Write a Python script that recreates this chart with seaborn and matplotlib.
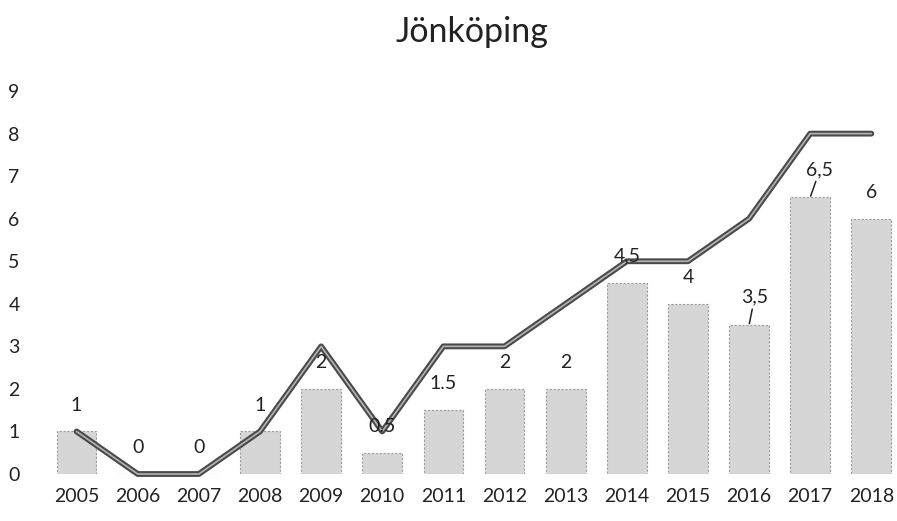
import numpy as np
import matplotlib.pyplot as plt
import seaborn as sns

# Data
years = ['2005', '2006', '2007', '2008', '2009', '2010', '2011',
         '2012', '2013', '2014', '2015', '2016', '2017', '2018']
bar_values = [1, 0, 0, 1, 2, 0.5, 1.5, 2, 2, 4.5, 4, 3.5, 6.5, 6]
bar_labels = ['1', '0', '0', '1', '2', '0.5', '1.5', '2', '2',
              '4,5', '4', '3,5', '6,5', '6']
line_values = [1, 0, 0, 1, 3, 1, 3, 3, 4, 5, 5, 6, 8, 8]

sns.set_theme(style='white')
plt.rcParams['font.family'] = ['Lato', 'DejaVu Sans']

fig = plt.figure(figsize=(8.97, 5.21), dpi=100)
ax = fig.add_axes([0.0513, 0.0902, 0.9487, 0.735])

sns.barplot(x=years, y=bar_values, color='#d6d6d6', width=0.65,
            edgecolor='#9c9c9c', linewidth=0.8, saturation=1, ax=ax)
for p in ax.patches:
    p.set_linestyle((0, (2, 1.5)))

xpos = np.arange(len(years))
sns.lineplot(x=xpos, y=line_values, color='#4a4a4a', linewidth=4.2,
             ax=ax, solid_capstyle='round', solid_joinstyle='round', clip_on=False)
sns.lineplot(x=xpos, y=line_values, color='#b4b4b4', linewidth=1.2,
             ax=ax, solid_capstyle='round', clip_on=False)

# data labels above bars (leader lines where label was moved)
shifted = {'3,5': 4, '6,5': 7}
for i, (v, lab) in enumerate(zip(bar_values, bar_labels)):
    if lab in shifted:
        ax.annotate(lab, xy=(i, v), xytext=(shifted[lab], 20), textcoords='offset points',
                    ha='center', va='center', fontsize=14, color='#222222',
                    arrowprops=dict(arrowstyle='-', color='#222222', lw=1.1,
                                    shrinkA=0, shrinkB=1))
    else:
        ax.annotate(lab, xy=(i, v), xytext=(0, 19), textcoords='offset points',
                    ha='center', va='center', fontsize=14, color='#222222')

ax.set_xlim(-0.5, 13.42)
ax.set_ylim(0, 9)
ax.set_yticks(range(0, 10))
ax.tick_params(axis='y', length=0, pad=19, labelsize=14, labelcolor='#222222')
ax.tick_params(axis='x', length=0, pad=10, labelsize=14, labelcolor='#222222')
for lbl in ax.get_yticklabels():
    lbl.set_horizontalalignment('right')
sns.despine(ax=ax, left=True, bottom=True)
ax.set_xlabel('')
ax.set_ylabel('')
ax.set_title('Jönköping', fontsize=24.5, color='#222222', pad=35)

fig.savefig('out.png', dpi=100)
